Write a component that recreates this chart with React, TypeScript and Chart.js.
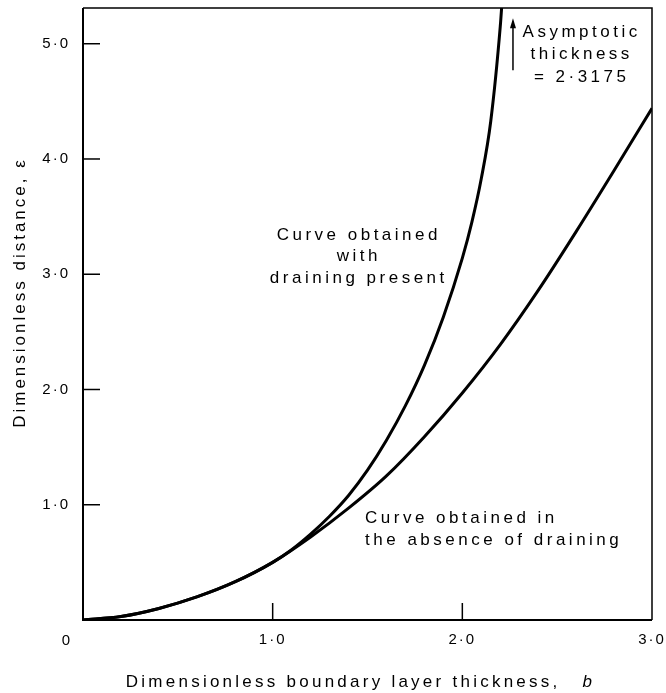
import React, { useEffect, useRef } from 'react';
import { Chart, registerables } from 'chart.js';

Chart.register(...registerables);

// ---- data (b = dimensionless boundary layer thickness, eps = dimensionless distance) ----
const sharedB = [0, 0.2, 0.4, 0.6, 0.8, 1.0];
const sharedE = [0, 0.03, 0.1, 0.2, 0.33, 0.5];

const drainB = [1.1, 1.2, 1.3, 1.4, 1.5, 1.6, 1.7, 1.8, 1.9, 2.0, 2.05, 2.1, 2.15, 2.2, 2.21];
const drainE = [0.61, 0.745, 0.9, 1.08, 1.3, 1.56, 1.86, 2.21, 2.63, 3.14, 3.45, 3.83, 4.33, 5.15, 5.38];

const noDrainB = [1.2, 1.4, 1.6, 1.8, 2.0, 2.2, 2.4, 2.6, 2.8, 3.0];
const noDrainE = [0.72, 0.97, 1.25, 1.59, 1.97, 2.39, 2.86, 3.37, 3.9, 4.44];

const xTickValues = [0, 1, 2, 3];
const xTickLabels = ['', '1·0', '2·0', '3·0'];
const yTickValues = [0, 1, 2, 3, 4, 5];
const yTickLabels = ['', '1·0', '2·0', '3·0', '4·0', '5·0'];
const cornerLabel = '0';

const drainLabel = ['Curve obtained', 'with', 'draining present'];
const noDrainLabel = ['Curve obtained in', 'the absence of draining'];
const asymptoteLabel = ['Asymptotic', 'thickness', '= 2·3175'];
const xTitle = 'Dimensionless boundary layer thickness,';
const xTitleSymbol = 'b';
const yTitle = 'Dimensionless distance, ε';

const X_MAX = 3;
const Y_MAX = 5.31;
const FONT = '"Liberation Sans", Arial, sans-serif';

const toPoints = (bs: number[], es: number[]) => bs.map((b, i) => ({ x: b, y: es[i] }));
const drainPoints = toPoints([...sharedB, ...drainB], [...sharedE, ...drainE]);
const noDrainPoints = toPoints([...sharedB, ...noDrainB], [...sharedE, ...noDrainE]);

const overlay = {
  id: 'overlay',
  beforeDraw(chart: any) {
    chart.ctx.letterSpacing = '2px';
  },
  afterDraw(chart: any) {
    const { ctx, chartArea: a } = chart;
    const xs = chart.scales.x;
    const ys = chart.scales.y;
    ctx.save();
    ctx.strokeStyle = '#000';
    ctx.fillStyle = '#000';

    // frame
    ctx.lineWidth = 2;
    ctx.beginPath();
    ctx.moveTo(a.left, a.top);
    ctx.lineTo(a.left, a.bottom);
    ctx.lineTo(a.right, a.bottom);
    ctx.stroke();
    ctx.lineWidth = 1.5;
    ctx.beginPath();
    ctx.moveTo(a.left, a.top);
    ctx.lineTo(a.right, a.top);
    ctx.lineTo(a.right, a.bottom);
    ctx.stroke();

    // inward ticks
    ctx.lineWidth = 1.5;
    yTickValues.forEach((v) => {
      if (v === 0) return;
      const py = ys.getPixelForValue(v);
      ctx.beginPath();
      ctx.moveTo(a.left, py);
      ctx.lineTo(a.left + 17, py);
      ctx.stroke();
    });
    xTickValues.forEach((v) => {
      if (v === 0 || v === X_MAX) return;
      const px = xs.getPixelForValue(v);
      ctx.beginPath();
      ctx.moveTo(px, a.bottom);
      ctx.lineTo(px, a.bottom - 17);
      ctx.stroke();
    });

    // corner label
    ctx.letterSpacing = '0px';
    ctx.font = `15px ${FONT}`;
    ctx.textAlign = 'center';
    ctx.textBaseline = 'middle';
    ctx.fillText(cornerLabel, xs.getPixelForValue(0) - 17, a.bottom + 21);

    // annotations
    ctx.font = `17px ${FONT}`;
    ctx.letterSpacing = '3.5px';
    ctx.textBaseline = 'alphabetic';
    ctx.textAlign = 'center';
    const dx = xs.getPixelForValue(1.445);
    drainLabel.forEach((t, i) => {
      ctx.fillText(t, dx + 1.75, ys.getPixelForValue(3.3) + i * 21.5);
    });
    const ax = xs.getPixelForValue(2.62);
    asymptoteLabel.forEach((t, i) => {
      ctx.fillText(t, ax + 1.75, ys.getPixelForValue(5.06) + i * 22.5);
    });
    ctx.textAlign = 'left';
    const nx = xs.getPixelForValue(1.487);
    noDrainLabel.forEach((t, i) => {
      ctx.fillText(t, nx, ys.getPixelForValue(0.84) + i * 22);
    });

    // arrow
    const arx = xs.getPixelForValue(2.267);
    const arBottom = ys.getPixelForValue(4.77);
    const arTop = ys.getPixelForValue(5.22);
    ctx.lineWidth = 1.5;
    ctx.beginPath();
    ctx.moveTo(arx, arBottom);
    ctx.lineTo(arx, arTop + 6);
    ctx.stroke();
    ctx.beginPath();
    ctx.moveTo(arx, arTop);
    ctx.lineTo(arx - 3, arTop + 10);
    ctx.lineTo(arx + 3, arTop + 10);
    ctx.closePath();
    ctx.fill();

    // x title
    ctx.font = `17px ${FONT}`;
    ctx.letterSpacing = '3.25px';
    ctx.textAlign = 'left';
    ctx.textBaseline = 'alphabetic';
    const w1 = ctx.measureText(xTitle).width;
    ctx.font = `italic 17px ${FONT}`;
    const wb = ctx.measureText(xTitleSymbol).width;
    const gap = 22;
    const total = w1 + gap + wb;
    const cx = (a.left + a.right) / 2 - 7;
    const startX = cx - total / 2;
    ctx.font = `17px ${FONT}`;
    ctx.fillText(xTitle, startX, a.bottom + 67);
    ctx.font = `italic 17px ${FONT}`;
    ctx.fillText(xTitleSymbol, startX + w1 + gap, a.bottom + 67);

    // y title
    ctx.font = `17px ${FONT}`;
    ctx.letterSpacing = '3px';
    ctx.textAlign = 'center';
    ctx.translate(25, (a.top + a.bottom) / 2 - 20);
    ctx.rotate(-Math.PI / 2);
    ctx.fillText(yTitle, 1.5, 0);

    ctx.restore();
  },
};

const zeroPadding = (s: any) => {
  s.paddingTop = 0;
  s.paddingBottom = 0;
  s.paddingLeft = 0;
  s.paddingRight = 0;
};

export default function App() {
  const ref = useRef<HTMLCanvasElement>(null);
  useEffect(() => {
    const lineStyle = {
      borderColor: '#000',
      backgroundColor: '#000',
      borderWidth: 3,
      pointRadius: 0,
      pointHoverRadius: 0,
      cubicInterpolationMode: 'monotone' as const,
      fill: false,
      clip: 0,
    };
    const chart = new Chart(ref.current as HTMLCanvasElement, {
      type: 'line',
      data: {
        datasets: [
          { label: 'Curve obtained with draining present', data: drainPoints, ...lineStyle },
          { label: 'Curve obtained in the absence of draining', data: noDrainPoints, ...lineStyle },
        ],
      },
      options: {
        animation: false,
        responsive: false,
        maintainAspectRatio: false,
        devicePixelRatio: 1,
        events: [],
        layout: { padding: { top: 8, right: 14, left: 0, bottom: 0 } },
        plugins: { legend: { display: false }, tooltip: { enabled: false }, title: { display: false } },
        scales: {
          x: {
            type: 'linear',
            min: 0,
            max: X_MAX,
            grid: { display: false, drawTicks: false },
            border: { display: false },
            ticks: {
              autoSkip: false,
              maxRotation: 0,
              minRotation: 0,
              padding: 11,
              color: '#000',
              font: { family: FONT, size: 15 },
              callback: (v: any) => xTickLabels[xTickValues.indexOf(Number(v))] ?? '',
            },
            afterBuildTicks: (s: any) => {
              s.ticks = xTickValues.map((value) => ({ value }));
            },
            afterFit: (s: any) => {
              s.height = 73;
              zeroPadding(s);
            },
          },
          y: {
            type: 'linear',
            min: 0,
            max: Y_MAX,
            grid: { display: false, drawTicks: false },
            border: { display: false },
            ticks: {
              autoSkip: false,
              padding: 13,
              color: '#000',
              font: { family: FONT, size: 15 },
              callback: (v: any) => yTickLabels[yTickValues.indexOf(Number(v))] ?? '',
            },
            afterBuildTicks: (s: any) => {
              s.ticks = yTickValues.map((value) => ({ value }));
            },
            afterFit: (s: any) => {
              s.width = 83;
              zeroPadding(s);
            },
          },
        },
      },
      plugins: [overlay],
    });
    return () => chart.destroy();
  }, []);
  return (
    <div style={{ position: 'fixed', left: 0, top: 0, width: 666, height: 693, background: '#fff' }}>
      <canvas ref={ref} width={666} height={693} style={{ width: 666, height: 693, display: 'block' }} />
    </div>
  );
}
